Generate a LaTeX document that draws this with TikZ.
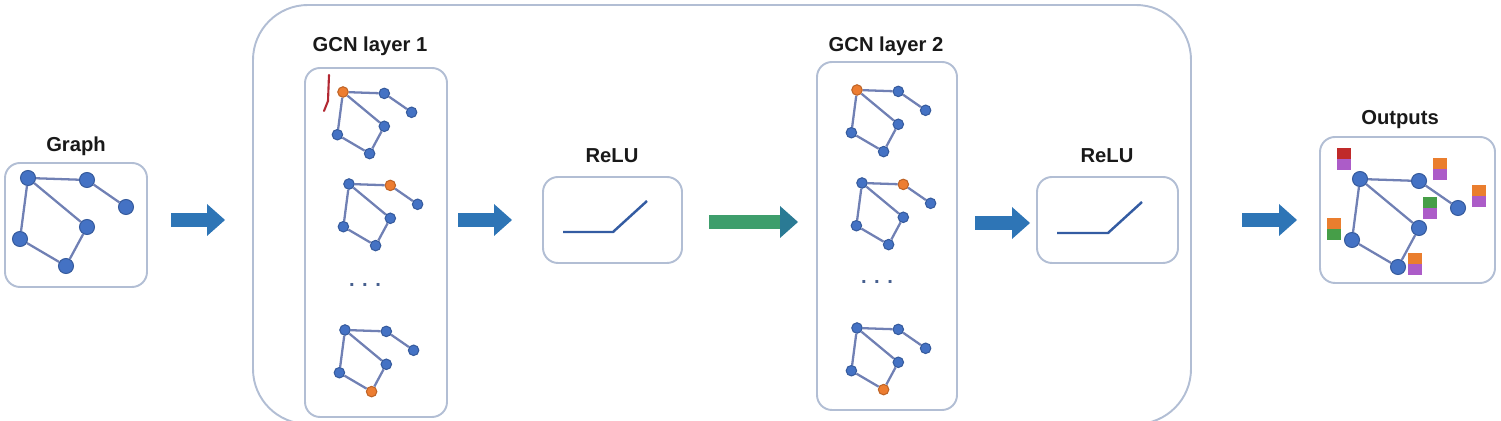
\documentclass[tikz,border=0pt]{standalone}
\usepackage{fontspec}
\setmainfont{Liberation Sans}
\usepackage{tikz}
\usetikzlibrary{arrows.meta,fit}

\definecolor{boxline}{RGB}{178,190,212}
\definecolor{nodeblue}{RGB}{68,114,196}
\definecolor{nodeline}{RGB}{47,82,150}
\definecolor{hotorange}{RGB}{237,125,49}
\definecolor{edgeblue}{RGB}{112,128,180}
\definecolor{arrowblue}{RGB}{46,117,182}
\definecolor{arrowgreen}{RGB}{62,158,108}
\definecolor{arrowteal}{RGB}{42,122,148}
\definecolor{reluline}{RGB}{52,92,162}
\definecolor{labelblack}{RGB}{25,25,25}
\definecolor{penred}{RGB}{178,40,50}
\definecolor{barred}{RGB}{192,42,42}
\definecolor{barorange}{RGB}{234,126,46}
\definecolor{barpurple}{RGB}{172,92,200}
\definecolor{bargreen}{RGB}{70,158,72}

\newcommand{\minigraph}[5]{%
  \begin{scope}[shift={#2}, scale=#3]
    \foreach \n/\px/\py [count=\i] in {a/0/0, b/59/2, c/98/29, d/59/49, e/-8/61, f/38/88} {
      \ifnum\i=#5 \def\vcol{hotorange}\else\def\vcol{nodeblue}\fi
      \node[#4, fill=\vcol, draw=\vcol!80!black] (#1\n) at (\px,\py) {};
    }
    \foreach \u/\v in {a/b, b/c, a/d, a/e, e/f, f/d}
      \draw[gedge] (#1\u) -- (#1\v);
  \end{scope}
}

\begin{document}
\begin{tikzpicture}[x=0.02cm, y=-0.02cm,
    panel/.style={draw=boxline, line width=1.1pt, rounded corners=0.3cm, inner sep=0pt},
    lbl/.style={font=\fontsize{11.5}{13}\selectfont\bfseries, text=labelblack, anchor=base},
    vtx/.style={circle, line width=0.6pt, inner sep=0pt, minimum size=0.3cm},
    svtx/.style={vtx, minimum size=0.21cm},
    gedge/.style={draw=edgeblue, line width=1.3pt},
    bigarrow/.style={-{Triangle[length=0.36cm, width=0.64cm, line width=0pt]}, line width=0.28cm, draw=arrowblue},
    relucurve/.style={draw=reluline, line width=1.4pt}]
    \useasboundingbox (0,0) rectangle (1501,421);

    \node[panel, rounded corners=1.1cm, fit={(253,5) (1191,424)}] (gcn) {};
    \node[panel, fit={(5,163) (147,287)}] (graph) {};
    \node[panel, fit={(305,68) (447,417)}] (layer1) {};
    \node[panel, fit={(543,177) (682,263)}] (relu1) {};
    \node[panel, fit={(817,62) (957,410)}] (layer2) {};
    \node[panel, fit={(1037,177) (1178,263)}] (relu2) {};
    \node[panel, fit={(1320,137) (1495,283)}] (out) {};

    \node[lbl] (graphlbl) at (76,152) {Graph};
    \node[lbl] (layer1lbl) at (370,52) {GCN layer 1};
    \node[lbl] (layer2lbl) at (886,51.5) {GCN layer 2};
    \node[lbl] (relu1lbl) at (612,163) {ReLU};
    \node[lbl] (relu2lbl) at (1107,163) {ReLU};
    \node[lbl] (outlbl) at (1400,125) {Outputs};

    \minigraph{g}{(28,178)}{1}{vtx}{0}
    \minigraph{la}{(343,92)}{0.7}{svtx}{1}
    \minigraph{lb}{(349,184)}{0.7}{svtx}{2}
    \minigraph{lc}{(345,330)}{0.7}{svtx}{6}
    \minigraph{ma}{(857,90)}{0.7}{svtx}{1}
    \minigraph{mb}{(862,183)}{0.7}{svtx}{2}
    \minigraph{mc}{(857,328)}{0.7}{svtx}{6}
    \minigraph{o}{(1360,179)}{1}{vtx}{0}

    \node[font=\fontsize{11.5}{13}\selectfont\bfseries, text=nodeline!70!gray] (layer1dots) at (365,285) {. . .};
    \node[font=\fontsize{11.5}{13}\selectfont\bfseries, text=nodeline!70!gray] (layer2dots) at (877,282) {. . .};

    \draw[relucurve] (563,232) -- (613,232) -- (647,201);
    \draw[relucurve] (1057,233) -- (1108,233) -- (1142,202);

    \coordinate (a1s) at (171,220); \coordinate (a1e) at (225,220);
    \coordinate (a2s) at (458,220); \coordinate (a2e) at (512,220);
    \coordinate (a3s) at (709,222); \coordinate (a3e) at (798,222);
    \coordinate (a4s) at (975,223); \coordinate (a4e) at (1030,223);
    \coordinate (a5s) at (1242,220); \coordinate (a5e) at (1297,220);
    \draw[bigarrow] (a1s) -- (a1e);
    \draw[bigarrow] (a2s) -- (a2e);
    \draw[bigarrow, draw=arrowgreen, -{Triangle[length=0.36cm, width=0.64cm, line width=0pt, color=arrowteal]}] (a3s) -- (a3e);
    \draw[bigarrow] (a4s) -- (a4e);
    \draw[bigarrow] (a5s) -- (a5e);

    \foreach \x/\y/\t/\b in {1337/148/barred/barpurple, 1327/218/barorange/bargreen, 1433/158/barorange/barpurple,
        1472/185/barorange/barpurple, 1423/197/bargreen/barpurple, 1408/253/barorange/barpurple} {
      \fill[\t] (\x,\y) rectangle ++(14,11);
      \fill[\b] (\x,\y+11) rectangle ++(14,11);
    }

    \draw[penred, line width=1.2pt, line cap=round] (329,75) -- (328,101) -- (324,111);
\end{tikzpicture}
\end{document}
